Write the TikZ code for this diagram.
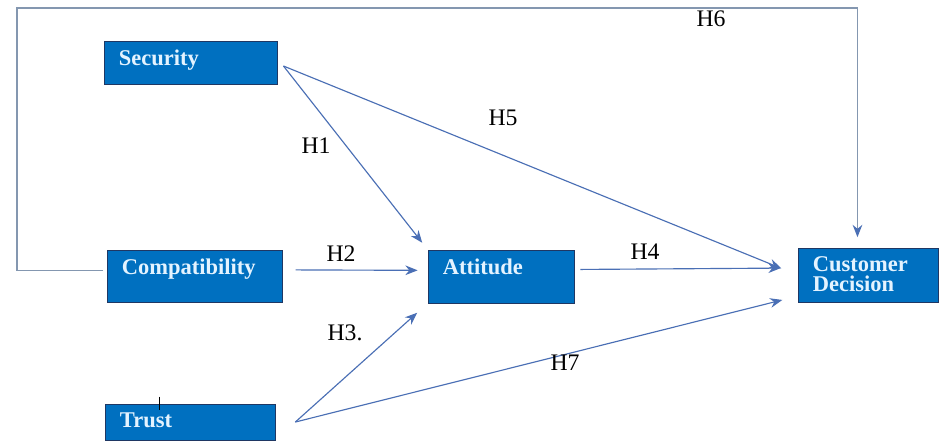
\documentclass[tikz,border=0pt]{standalone}
\usepackage{fontspec}
\setmainfont{Liberation Serif}
\usetikzlibrary{arrows.meta}
\definecolor{boxblue}{HTML}{0070C0}
\definecolor{boxline}{HTML}{1F3763}
\definecolor{boxtext}{HTML}{E4F3FF}
\definecolor{arrowblue}{HTML}{4A6FB5}
\definecolor{frameline}{HTML}{8497B0}
\tikzset{
    var-box/.style = {draw=boxline, fill=boxblue, rectangle, thin, inner sep=0pt},
    var-text/.style = {anchor=north west, text=boxtext, inner sep=0pt, xshift=8.5pt, yshift=-5pt, align=left, font=\fontsize{12.8}{11.5}\selectfont\bfseries},
    hyp/.style = {font=\fontsize{13.5}{15}\selectfont, text=black, inner sep=0pt},
    hyp-arrow/.style = {draw=arrowblue, line width=0.65pt, -{Stealth[length=7pt,width=5.5pt]}},
}

\begin{document}
\begin{tikzpicture}[x=0.02cm, y=-0.02cm]
\useasboundingbox (0,0) rectangle (939,441);
\fill[white] (0,0) rectangle (939,441);

% constructs
\node[var-box, minimum width=3.46cm, minimum height=0.86cm, label={[var-text]north west:Security}] (sec) at (190.5,62.5) {};
\node[var-box, minimum width=3.5cm, minimum height=1.04cm, label={[var-text]north west:Compatibility}] (comp) at (194.5,276) {};
\node[var-box, minimum width=2.92cm, minimum height=1.06cm, label={[var-text]north west:Attitude}] (att) at (501,276.5) {};
\node[var-box, minimum width=2.8cm, minimum height=1.08cm, label={[var-text]north west:Customer\\Decision}] (cust) at (868,275) {};
\node[var-box, minimum width=3.4cm, minimum height=0.72cm, label={[var-text]north west:Trust}] (trust) at (190,422) {};
\draw[black, line width=0.6pt] ([xshift=31pt,yshift=4pt]trust.north west) -- ([xshift=31pt,yshift=-3.5pt]trust.north west);

\coordinate (sec-out) at ([xshift=3.5pt,yshift=-2pt]sec.east);
\coordinate (trust-out) at ([xshift=11.4pt]trust.east);
\coordinate (h6-corner) at (17,8);

% hypotheses
\draw[hyp-arrow, shorten >=5pt] (sec-out) -- (att.north west);
\draw[hyp-arrow, shorten >=10pt] (sec-out) -- (cust.west);
\draw[hyp-arrow, shorten <=7.5pt, shorten >=5.7pt] ([yshift=3.5pt]comp.east) -- ([yshift=3.5pt]att.west);
\draw[hyp-arrow, shorten >=8pt] (trust-out) -- (att.south west);
\draw[hyp-arrow, shorten <=3.4pt, shorten >=9.7pt] ([yshift=4pt]att.east) -- ([yshift=4pt]cust.west);
\draw[hyp-arrow, shorten >=9pt] (trust-out) -- ([yshift=-12pt]cust.west);
\draw[hyp-arrow, draw=frameline, -{Stealth[length=7pt,width=5.5pt,color=arrowblue]}, shorten <=2pt, shorten >=6pt] ([yshift=3pt]comp.west) -| (h6-corner) -| ([xshift=-6pt]cust.north);

\node[hyp] (h1) at (316,146) {H1};
\node[hyp] (h2) at (341,254) {H2};
\node[hyp] (h3) at (345,333) {H3.};
\node[hyp] (h4) at (645,252) {H4};
\node[hyp] (h5) at (503,118) {H5};
\node[hyp] (h6) at (711,19) {H6};
\node[hyp] (h7) at (565,363) {H7};
\end{tikzpicture}
\end{document}
